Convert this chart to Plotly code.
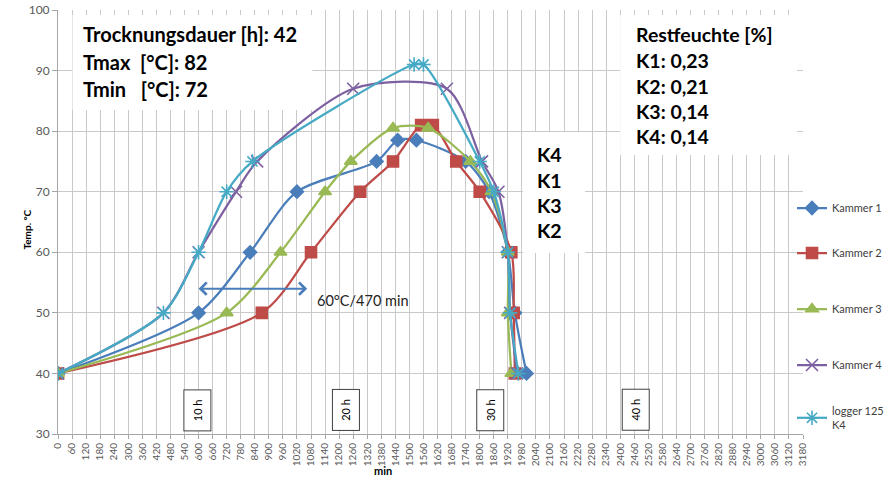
import plotly.graph_objects as go

# Drying curves: time in minutes, temperature in °C
k1_t = [0, 600, 820, 1020, 1360, 1450, 1530, 1740, 1840, 1920, 1950, 2000]
k1_v = [40, 50, 60, 70, 75, 78.5, 78.5, 75, 70, 60, 50, 40]

k2_t = [0, 870, 1080, 1290, 1430, 1550, 1600, 1700, 1800, 1935, 1945, 1950]
k2_v = [40, 50, 60, 70, 75, 81, 81, 75, 70, 60, 50, 40]

k3_t = [0, 720, 950, 1140, 1250, 1430, 1580, 1760, 1850, 1920, 1920, 1935]
k3_v = [40, 50, 60, 70, 75, 80.5, 80.5, 75, 70, 60, 50, 40]

k4_t = [0, 450, 600, 760, 850, 1260, 1660, 1810, 1880, 1920, 1930, 1960]
k4_v = [40, 50, 60, 70, 75, 87, 87, 75, 70, 60, 50, 40]

lg_t = [0, 450, 600, 720, 830, 1520, 1560, 1800, 1860, 1920, 1930, 1965]
lg_v = [40, 50, 60, 70, 75, 91, 91, 75, 70, 60, 50, 40]

series_names = ["Kammer 1", "Kammer 2", "Kammer 3", "Kammer 4", "logger 125<br>K4"]

x_ticks = list(range(0, 3181, 60))
y_ticks = list(range(30, 101, 10))

# Summary texts
info_left = ["Trocknungsdauer [h]: 42", "Tmax  [°C]: 82", "Tmin   [°C]: 72"]
info_right = ["Restfeuchte [%]", "K1: 0,23", "K2: 0,21", "K3: 0,14", "K4: 0,14"]
order_labels = ["K4", "K1", "K3", "K2"]
hour_marks = [("10 h", 595), ("20 h", 1229), ("30 h", 1845), ("40 h", 2466)]
span_start, span_end, span_temp = 600, 1070, 54
span_label = "60°C/470 min"

colors = ["#4A7EBB", "#BE4B48", "#98B954", "#7D60A0", "#46AAC5"]
symbols = ["diamond", "square", "triangle-up", "x-thin-open", "asterisk-open"]
sizes = [10, 11, 11, 12, 12]

FONT = "Lato"
GRID = "#C9C9C9"

fig = go.Figure()
data = [(k1_t, k1_v), (k2_t, k2_v), (k3_t, k3_v), (k4_t, k4_v), (lg_t, lg_v)]
legend_ids = ["legend", "legend2", "legend3", "legend4", "legend5"]
for i, (t, v) in enumerate(data):
    fig.add_trace(go.Scatter(
        x=t, y=v, name=series_names[i], mode="lines+markers",
        line=dict(color=colors[i], width=2.25, shape="spline", smoothing=0.8),
        marker=dict(symbol=symbols[i], size=sizes[i], color=colors[i],
                    line=dict(color=colors[i], width=1.6)),
        legend=legend_ids[i],
    ))

# plot area in pixels: x 57.5..803, y 10..434
def px_x(p):
    return (p - 57.5) / 745.5 * 3180

def px_y(p):
    return 100 - (p - 10) / 424 * 70

shapes = []
annotations = []

def white_box(x0, x1, y0, y1):
    shapes.append(dict(type="rect", xref="x", yref="y",
                       x0=px_x(x0), x1=px_x(x1), y0=px_y(y1), y1=px_y(y0),
                       fillcolor="white", line=dict(width=0), layer="above"))

white_box(72, 312, 15, 110)
white_box(620, 797, 15, 155)
white_box(523, 585, 132, 253)

def bold_lines(lines, left_px, tops_px, size):
    for txt, ypx in zip(lines, tops_px):
        annotations.append(dict(x=px_x(left_px), y=px_y(ypx), xref="x", yref="y",
                                text="<b>%s</b>" % txt, showarrow=False,
                                xanchor="left", yanchor="middle",
                                font=dict(family=FONT, size=size, color="#000000")))

bold_lines(info_left, 81, [34, 62, 89], 20)
bold_lines(info_right, 634, [34, 60, 86, 111, 136], 19.5)
bold_lines(order_labels, 535, [154, 180, 205, 230], 19.5)

for label, t in hour_marks:
    annotations.append(dict(x=t, y=px_y(410), xref="x", yref="y", text=label,
                            showarrow=False, textangle=-90,
                            width=38, height=24, borderpad=1,
                            bordercolor="#404040", borderwidth=1, bgcolor="white",
                            font=dict(family=FONT, size=11, color="#000000")))

# double-headed arrow marking the 60 °C span
annotations.append(dict(x=span_start, y=span_temp, ax=span_end, ay=span_temp,
                        xref="x", yref="y", axref="x", ayref="y", text="",
                        showarrow=True, arrowside="end+start", arrowhead=4,
                        arrowsize=1.2, arrowwidth=2, arrowcolor="#4A7EBB"))
annotations.append(dict(x=px_x(315), y=px_y(300), xref="x", yref="y",
                        text=span_label, showarrow=False, xanchor="left",
                        font=dict(family=FONT, size=14.5, color="#222222")))

# axis titles
annotations.append(dict(x=(18 - 57.5) / 745.5, y=(434 - 230) / 424, xref="paper", yref="paper",
                        text="<b>Temp. °C</b>", showarrow=False, textangle=-90,
                        font=dict(family=FONT, size=10, color="#000000")))
annotations.append(dict(x=(383 - 57.5) / 745.5, y=(434 - 479) / 424, xref="paper", yref="paper",
                        text="<b>min</b>", showarrow=False,
                        font=dict(family=FONT, size=11, color="#000000")))

legend_px = [208, 253, 309, 365, 418]
legend_layout = {}
for lid, ypx in zip(legend_ids, legend_px):
    legend_layout[lid] = dict(x=1.0 - 11 / 745.5, xanchor="left", y=(434 - ypx) / 424,
                              yanchor="middle", bgcolor="rgba(0,0,0,0)", itemwidth=30,
                              font=dict(family=FONT, size=11, color="#404040"))

fig.update_layout(
    width=892, height=486,
    margin=dict(l=57.5, r=89, t=10, b=52, autoexpand=False),
    paper_bgcolor="white", plot_bgcolor="white",
    showlegend=True,
    shapes=shapes, annotations=annotations,
    xaxis=dict(range=[0, 3180], tickmode="array", tickvals=x_ticks,
               ticktext=[str(v) for v in x_ticks], tickangle=-90,
               showgrid=True, gridcolor=GRID, gridwidth=1,
               showline=True, linecolor="#A6A6A6", linewidth=1,
               ticks="outside", ticklen=4, tickcolor="#A6A6A6",
               tickfont=dict(family=FONT, size=10, color="#595959"),
               zeroline=False, fixedrange=True, automargin=False),
    yaxis=dict(range=[30, 100], tickmode="array", tickvals=y_ticks,
               showgrid=True, gridcolor=GRID, gridwidth=1,
               showline=True, linecolor="#A6A6A6", linewidth=1,
               ticks="outside", ticklen=5, tickcolor="#A6A6A6",
               tickfont=dict(family=FONT, size=12, color="#595959"),
               zeroline=False, fixedrange=True, automargin=False),
    **legend_layout,
)

fig.write_html("out.html")
